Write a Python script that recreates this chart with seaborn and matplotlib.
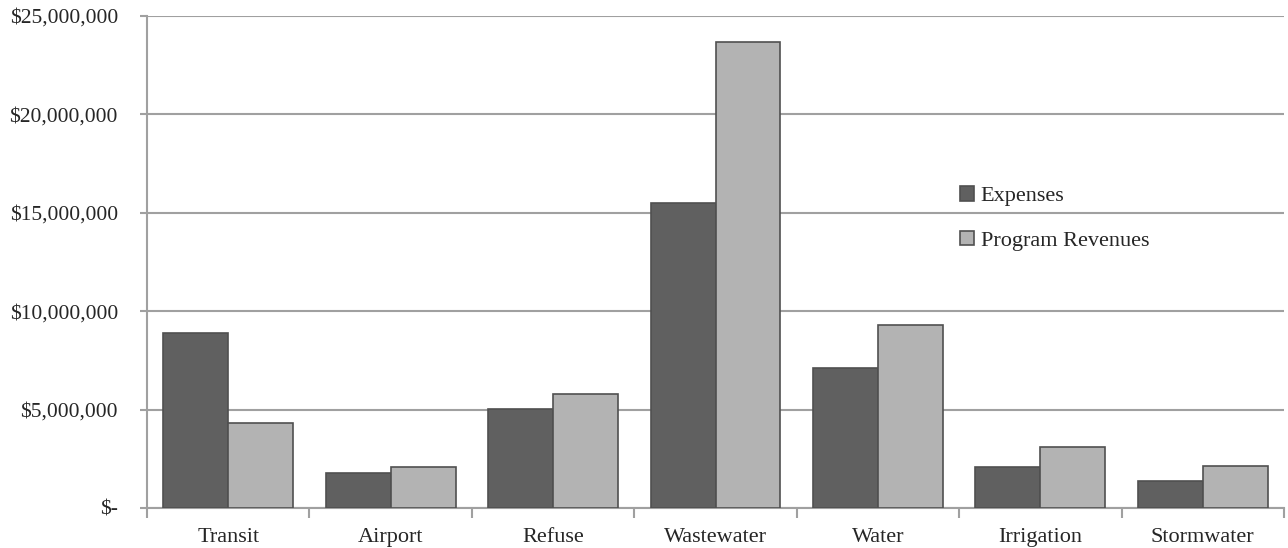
import matplotlib
matplotlib.use("Agg")
import matplotlib.pyplot as plt
import matplotlib.ticker as mticker
import seaborn as sns
import pandas as pd

# categories and series values (dollars)
categories = ["Transit", "Airport", "Refuse", "Wastewater", "Water", "Irrigation", "Stormwater"]
expenses = [8870000, 1760000, 5010000, 15500000, 7090000, 2100000, 1370000]
program_revenues = [4300000, 2070000, 5790000, 23680000, 9290000, 3110000, 2150000]
series_names = ["Expenses", "Program Revenues"]

# long form table for seaborn
rows = []
for cat, e, r in zip(categories, expenses, program_revenues):
    rows.append({"category": cat, "series": series_names[0], "value": e})
    rows.append({"category": cat, "series": series_names[1], "value": r})
df = pd.DataFrame(rows)

sns.set_style("white")
plt.rcParams["font.family"] = ["Liberation Serif", "DejaVu Serif"]
plt.rcParams["font.size"] = 16

fig = plt.figure(figsize=(12.88, 5.48), dpi=100)
ax = fig.add_axes([147 / 1288, 40 / 548, 1137 / 1288, 492 / 548])

sns.barplot(data=df, x="category", y="value", hue="series", order=categories,
            hue_order=series_names, palette=["#606060", "#b3b3b3"],
            edgecolor="#505050", linewidth=1.2, width=0.8, ax=ax, zorder=3)

# gridlines and axes
ax.set_ylim(0, 25000000)
ax.set_xlim(-0.5, len(categories) - 0.5)
ax.yaxis.set_major_locator(mticker.MultipleLocator(5000000))
ax.yaxis.grid(True, color="#a0a0a0", linewidth=1.5, zorder=0)
ax.set_axisbelow(True)


def money(v, pos):
    if v == 0:
        return "$-"
    return "${:,.0f}".format(v)


ax.yaxis.set_major_formatter(mticker.FuncFormatter(money))
ax.tick_params(axis="y", direction="out", length=5, width=1.5, color="#a0a0a0",
               pad=16, labelsize=15.5, left=True)

# category boundary ticks on x axis
ax.set_xticks(range(len(categories)))
ax.set_xticklabels(categories)
ax.xaxis.set_minor_locator(mticker.FixedLocator([i - 0.5 for i in range(len(categories) + 1)]))
ax.tick_params(axis="x", which="major", length=0, pad=14.5, labelsize=16)
ax.tick_params(axis="x", which="minor", direction="out", length=7, width=1.5,
               color="#a0a0a0", bottom=True)

for side in ["top", "right"]:
    ax.spines[side].set_visible(False)
for side in ["left", "bottom"]:
    ax.spines[side].set_color("#a0a0a0")
    ax.spines[side].set_linewidth(1.5)

ax.set_xlabel("")
ax.set_ylabel("")

# legend at the right side
handles, labels = ax.get_legend_handles_labels()
ax.legend(handles, labels, frameon=False, loc="upper left",
          bbox_to_anchor=(949 / 1288, 1 - 175 / 548), bbox_transform=fig.transFigure,
          handlelength=0.62, handleheight=0.62, handletextpad=0.3,
          labelspacing=1.1, borderpad=0, fontsize=16)

fig.savefig("out.png", dpi=100)
